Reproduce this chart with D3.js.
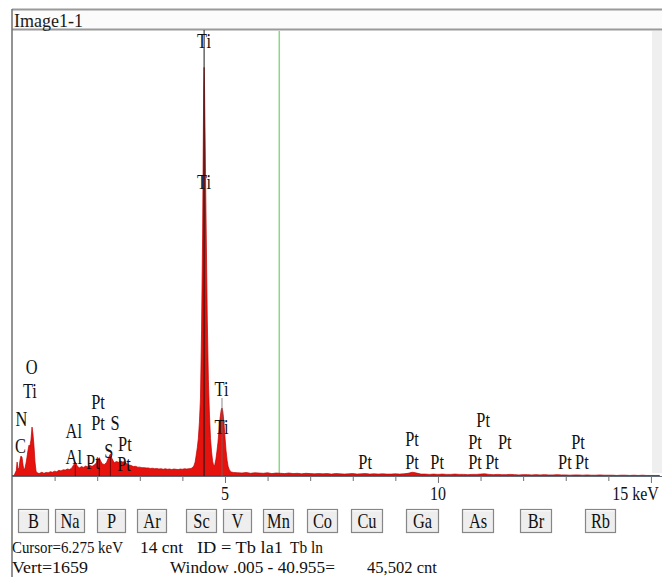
<!DOCTYPE html>
<html><head><meta charset="utf-8">
<script src="https://cdn.jsdelivr.net/npm/d3@7/dist/d3.min.js"></script>
<style>html,body{margin:0;padding:0;background:#fff;}svg{display:block;}</style>
</head><body>
<script>
// ---------- DATA ----------
const energyKeV = [
 0.00,0.05,0.10,0.12,0.14,0.165,0.19,0.21,0.235,0.26,0.28,0.305,0.33,0.35,0.375,0.40,0.42,0.445,0.47,0.49,0.515,0.54,0.565,0.59,0.62,
 0.65,0.70,0.75,0.80,0.85,0.90,0.95,1.00,1.05,1.10,1.15,1.20,1.25,1.30,1.35,1.40,1.45,1.49,1.53,1.58,1.63,1.68,1.73,1.78,1.83,1.88,1.93,1.98,
 2.02,2.05,2.08,2.12,2.17,2.22,2.27,2.31,2.35,2.40,2.45,2.50,2.55,2.60,2.65,2.70,2.75,2.80,2.85,2.90,2.95,3.00,3.05,3.10,3.15,3.20,3.25,3.30,
 3.35,3.40,3.45,3.50,3.55,3.60,3.65,3.70,3.75,3.80,3.85,3.90,3.95,4.00,4.05,4.10,4.15,4.20,
 4.225,4.25,4.275,4.30,4.325,4.35,4.375,4.40,4.425,4.45,4.475,4.49,4.50,4.51,4.52,4.535,4.56,4.585,4.61,4.635,4.66,4.685,4.71,4.735,
 4.76,4.785,4.81,4.835,4.86,4.885,4.91,4.93,4.95,4.975,5.00,5.025,5.05,5.075,5.10,5.125,5.15,5.20,
 5.3,5.4,5.5,5.6,5.7,5.8,5.9,6.0,6.1,6.2,6.3,6.4,6.5,6.6,6.7,6.8,6.9,7.0,7.1,7.2,7.3,7.4,7.5,7.6,7.7,7.8,7.9,8.0,8.1,8.2,8.3,8.4,8.5,8.6,8.7,8.8,8.9,
 9.0,9.1,9.2,9.3,9.4,9.5,9.6,9.7,9.8,9.9,10.0,10.1,10.2,10.3,10.4,10.5,10.6,10.7,10.8,10.9,11.0,11.1,11.2,11.3,11.4,11.5,11.6,11.7,11.8,11.9,
 12.0,12.1,12.2,12.3,12.4,12.5,12.6,12.7,12.8,12.9,13.0,13.1,13.2,13.3,13.4,13.5,13.6,13.7,13.8,13.9,14.0,14.1,14.2,14.3,14.4,14.5,14.6,14.7,14.8,14.9,15.0,15.1,15.2
];
const counts = [
 0,2,20,52,25,30,60,74,70,40,22,30,48,68,95,115,110,134,182,160,115,52,18,12,10,
 10,14,10,13,12,16,14,18,16,21,19,23,22,26,24,29,42,50,38,30,35,32,37,34,39,36,41,48,
 62,68,56,45,43,50,70,82,64,49,54,51,56,52,54,45,41,39,35,36,33,33,31,31,30,30,28,29,
 27,28,26,27,25,27,25,26,24,26,25,24,26,25,27,26,27,28,
 30,33,40,52,78,105,140,200,290,540,900,1230,1440,1520,1450,1250,900,580,360,230,140,90,55,38,
 42,60,90,125,170,215,245,253,240,200,145,95,58,35,24,18,15,13,
 12,11,13,10,12,11,10,12,9,11,10,9,11,9,10,8,10,9,8,9,8,9,7,9,8,7,8,9,7,8,9,7,8,7,8,7,7,
 8,7,8,10,14,11,7,7,6,7,6,7,6,6,7,6,6,5,6,6,7,8,6,5,6,5,5,6,5,4,
 5,5,4,5,4,5,4,4,5,4,4,3,4,4,3,4,3,3,4,3,3,3,2,3,3,2,3,2,3,2,2,2,2
];
const labelText  = ["O","Ti","N","C","Al","Al","Pt","Pt","S","Pt","S","Pt","Pt","Ti","Ti","Ti","Ti",
                    "Pt","Pt","Pt","Pt","Pt","Pt","Pt","Pt","Pt","Pt","Pt","Pt"];
const labelKeV   = [0.46,0.42,0.22,0.20,1.45,1.45,2.02,2.02,2.42,1.90,2.27,2.65,2.63,4.51,4.51,4.92,4.92,
                    8.29,9.39,9.39,9.98,11.06,10.87,11.57,10.87,11.27,13.29,12.98,13.38];
const labelCount = [379,290,186,86,141,45,249,171,171,26,67,93,19,1592,1068,298,156,
                    26,112,26,26,182,100,100,26,26,100,26,26];
const markerKeV   = [4.51, 4.93, 2.05, 1.486, 2.31];
const markerCount = [1659, 290, 60, 40, 70];
const tickValues = [5, 10, 15];
const tickLabels = ["5", "10", "15 keV"];
const cursorKeV = 6.275;
const vertMax = 1659;
const buttonLabels = ["B","Na","P","Ar","Sc","V","Mn","Co","Cu","Ga","As","Br","Rb"];
const titleText = "Image1-1";
const statusRow1 = ["Cursor=6.275 keV", "14 cnt", "ID = Tb la1", "Tb ln"];
const statusRow2 = ["Vert=1659", "Window .005 - 40.955=", "45,502 cnt"];

// ---------- LAYOUT ----------
const W = 662, H = 577;
const L = {left:12, right:662, top:30, base:476};
const buttonX = [18,55,97,137,186,223,263,307,351,406,462,520,585];
const buttonW = [30,29,28,29,30,28,30,30,31,32,31,31,30];
const status1X = [12,140,197,290], status1W = [111,43,86,33];
const status2X = [12,170,367], status2W = [76,165,70];

const svg = d3.select("body").append("svg").attr("width", W).attr("height", H);
const serif = "'Liberation Serif','Times New Roman',serif";

const x = d3.scaleLinear().domain([0, 15.26]).range([L.left, L.right]);
const y = d3.scaleLinear().domain([0, vertMax]).range([L.base, L.top]);

// frame
svg.append("rect").attr("x",12).attr("y",10).attr("width",650).attr("height",20).attr("fill","#fbfbfb");
svg.append("rect").attr("x",652).attr("y",31).attr("width",10).attr("height",442).attr("fill","#efefef");
svg.append("line").attr("x1",12).attr("x2",662).attr("y1",9.5).attr("y2",9.5).attr("stroke","#9a9a9a").attr("stroke-width",2);
svg.append("line").attr("x1",12).attr("x2",662).attr("y1",29.5).attr("y2",29.5).attr("stroke","#9a9a9a").attr("stroke-width",2);
svg.append("line").attr("x1",12).attr("x2",12).attr("y1",9).attr("y2",H).attr("stroke","#6f6f6f").attr("stroke-width",1.5);
svg.append("text").attr("x",14).attr("y",27).style("font",`18px ${serif}`).attr("fill","#1a1a1a").text(titleText);

// cursor line
svg.append("line").attr("x1",x(cursorKeV)).attr("x2",x(cursorKeV)).attr("y1",31).attr("y2",L.base)
  .attr("stroke","#8bd68b").attr("stroke-width",1.5);

// spectrum
const pts = energyKeV.map((e,i)=>[e,counts[i]]);
const area = d3.area().x(d=>x(d[0])).y0(y(0)).y1(d=>y(d[1])).curve(d3.curveLinear);
svg.append("path").datum(pts).attr("d",area).attr("fill","#e5120d").attr("stroke","#c00000").attr("stroke-width",0.7);

// marker lines
markerKeV.forEach((e,i)=>{
  svg.append("line").attr("x1",x(e)).attr("x2",x(e)).attr("y1",y(markerCount[i])).attr("y2",y(0))
    .attr("stroke", i===1 ? "#6a6a6a" : (i===0||i===2 ? "#1a1a1a" : "#7a0000")).attr("stroke-width", i===1?0.8:1);
});

// axis
const axMinor = d3.axisBottom(x).tickValues(d3.range(1,16).filter(v=>v%5)).tickSize(5).tickSizeOuter(0).tickFormat("");
const axMajor = d3.axisBottom(x).tickValues(tickValues).tickSize(7).tickSizeOuter(0).tickFormat("");
const gA = svg.append("g").attr("transform",`translate(0,${L.base})`).call(axMinor);
const gB = svg.append("g").attr("transform",`translate(0,${L.base})`).call(axMajor);
[gA,gB].forEach(g=>{
  g.select(".domain").attr("stroke","#5f6b78").attr("stroke-width",1.2).attr("d",`M${L.left},0.5H${L.right}`);
  g.selectAll(".tick line").attr("stroke","#707070");
});
gB.select(".domain").remove();

function sq(str, px, py, anchor, size, sx, color){
  svg.append("text").attr("transform",`translate(${px},${py}) scale(${sx},1)`)
    .attr("text-anchor",anchor).style("font",`${size}px ${serif}`).attr("fill",color||"#111").text(str);
}
tickValues.forEach((v,i)=>{
  if (i === tickValues.length-1) sq(tickLabels[i], x(v)+8, 500, "end", 19.5, 0.82);
  else sq(tickLabels[i], x(v), 500, "middle", 19.5, 0.82);
});

// peak labels
labelText.forEach((t,i)=> sq(t, x(labelKeV[i]), y(labelCount[i]), "middle", 20, 0.82));

// buttons
buttonLabels.forEach((b,i)=>{
  svg.append("rect").attr("x",buttonX[i]+0.5).attr("y",509.5).attr("width",buttonW[i]).attr("height",23)
    .attr("fill","#eeeeee").attr("stroke","#868686").attr("stroke-width",1.2);
  svg.append("line").attr("x1",buttonX[i]+1.5).attr("x2",buttonX[i]+buttonW[i]-0.5).attr("y1",510.8).attr("y2",510.8).attr("stroke","#fff");
  sq(b, buttonX[i]+buttonW[i]/2+0.5, 527.5, "middle", 20, 0.82);
});

// status text (scaled horizontally to the measured width)
function st(str, px, py, w){
  const t = svg.append("text").style("font",`17px ${serif}`).attr("fill","#111").text(str);
  const len = t.node().getComputedTextLength();
  t.attr("transform",`translate(${px},${py}) scale(${w/len},1)`);
}
statusRow1.forEach((s,i)=>st(s, status1X[i], 553, status1W[i]));
statusRow2.forEach((s,i)=>st(s, status2X[i], 573, status2W[i]));
</script>
</body></html>
